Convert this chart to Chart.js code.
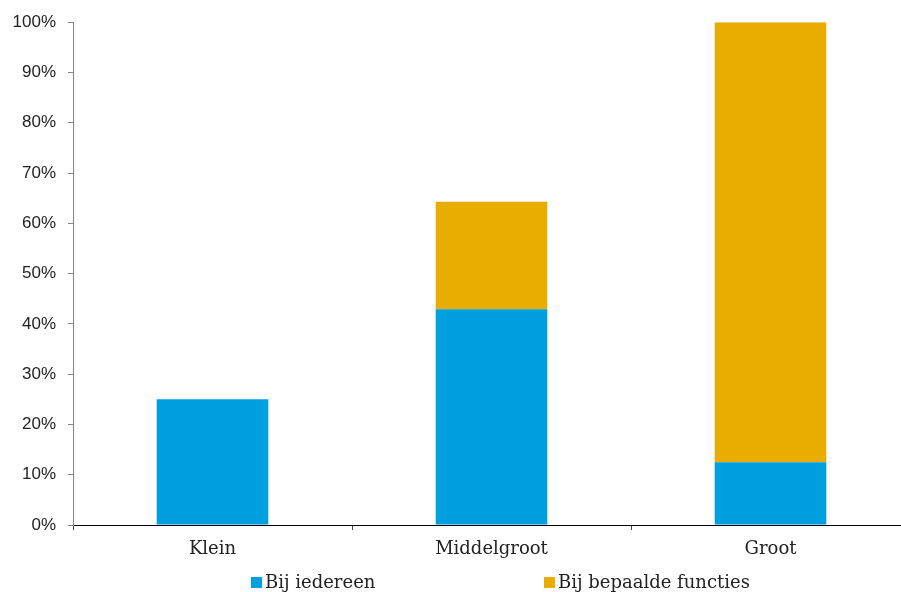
<!DOCTYPE html>
<html>
<head>
<meta charset="utf-8">
<script src="https://cdn.jsdelivr.net/npm/chart.js@4/dist/chart.umd.min.js"></script>
<style>
  html, body { margin: 0; padding: 0; background: #fff; overflow: hidden; width: 901px; height: 592px; }
  #wrap { position: relative; width: 911px; height: 592px; }
  #legend { position: absolute; top: 571px; left: 0; width: 901px; height: 21px; font-family: "DejaVu Serif", serif; font-size: 18px; color: #222; }
  .item { position: absolute; top: 0; white-space: nowrap; }
  .box { display: inline-block; width: 11px; height: 11px; margin-right: 3px; vertical-align: 0px; }
</style>
</head>
<body>
<div id="wrap">
  <canvas id="chart" width="911" height="592"></canvas>
  <div id="legend"></div>
</div>
<script>
const categories = ['Klein', 'Middelgroot', 'Groot'];
const iedereen = [25, 42.9, 12.5];
const bepaaldeFuncties = [0, 21.4, 87.5];
const seriesNames = ['Bij iedereen', 'Bij bepaalde functies'];
const seriesColors = ['#009fe0', '#e8ad00'];
const legendLeft = [251, 544];

const ctx = document.getElementById('chart').getContext('2d');
const chart = new Chart(ctx, {
    type: 'bar',
    data: {
        labels: categories,
        datasets: [{
            label: seriesNames[0],
            data: iedereen,
            backgroundColor: seriesColors[0]
        },
        {
            label: seriesNames[1],
            data: bepaaldeFuncties,
            backgroundColor: seriesColors[1]
        }]
    },
    options: {
        responsive: false,
        animation: false,
        categoryPercentage: 1,
        barPercentage: 0.4,
        layout: {
            padding: { top: 22, left: 0, right: 1, bottom: 0 }
        },
        plugins: {
            legend: { display: false },
            tooltip: { enabled: false }
        },
        scales: {
            x: {
                stacked: true,
                border: { color: '#000', width: 1 },
                grid: {
                    offset: true,
                    drawOnChartArea: false,
                    color: '#404040',
                    tickLength: 5
                },
                ticks: {
                    color: '#222',
                    padding: 9,
                    font: { family: 'DejaVu Serif', size: 18 }
                },
                afterFit: s => { s.height = 67; }
            },
            y: {
                stacked: true,
                min: 0,
                max: 100,
                border: { color: '#868686', width: 1 },
                grid: {
                    drawOnChartArea: false,
                    color: '#868686',
                    tickLength: 5
                },
                ticks: {
                    stepSize: 10,
                    color: '#222',
                    padding: 12,
                    font: { family: 'Liberation Sans', size: 17 },
                    callback: v => v + '%'
                },
                afterFit: s => { s.width = 73; }
            }
        }
    }
});

// legend spread out like the original
const legend = document.getElementById('legend');
seriesNames.forEach((name, i) => {
    const item = document.createElement('div');
    item.className = 'item';
    item.style.left = legendLeft[i] + 'px';
    const box = document.createElement('span');
    box.className = 'box';
    box.style.background = seriesColors[i];
    item.appendChild(box);
    item.appendChild(document.createTextNode(name));
    legend.appendChild(item);
});
</script>
</body>
</html>
